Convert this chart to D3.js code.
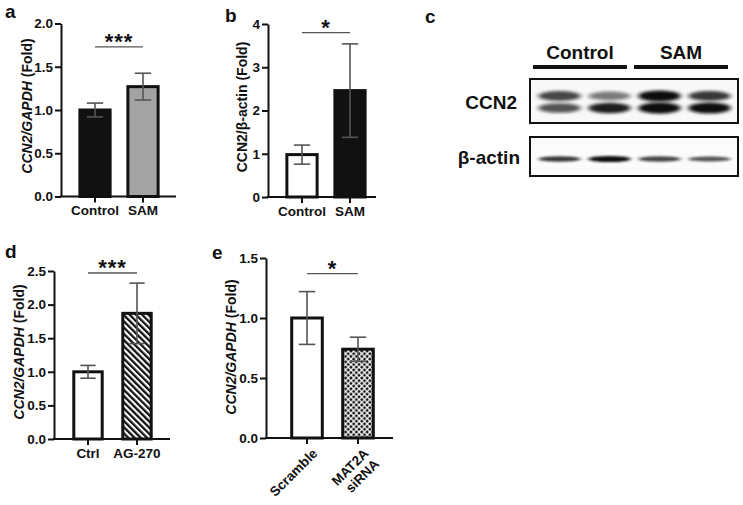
<!DOCTYPE html>
<html>
<head>
<meta charset="utf-8">
<title>CCN2 panels</title>
<script src="https://d3js.org/d3.v7.min.js"></script>
<style>
  body { margin: 0; background: #fff; }
  svg text { font-family: "Liberation Sans", Arial, sans-serif; font-weight: bold; fill: #111; }
</style>
</head>
<body>
<svg width="743" height="505"></svg>
<script>
// ---- data ----
var aCategories = ["Control", "SAM"];
var aMeans = [1.0, 1.27];
var aErrors = [0.08, 0.155];
var aTicks = [0, 0.5, 1.0, 1.5, 2.0];
var aSig = 1.73;

var bCategories = ["Control", "SAM"];
var bMeans = [0.98, 2.46];
var bErrors = [0.22, 1.08];
var bTicks = [0, 1, 2, 3, 4];
var bSig = 3.8;

var dCategories = ["Ctrl", "AG-270"];
var dMeans = [1.0, 1.87];
var dErrors = [0.095, 0.45];
var dTicks = [0, 0.5, 1.0, 1.5, 2.0, 2.5];
var dSig = 2.47;

var eCategories = ["Scramble", "MAT2A siRNA"];
var eMeans = [1.0, 0.74];
var eErrors = [0.22, 0.1];
var eTicks = [0, 0.5, 1.0, 1.5];
var eSig = 1.37;

// western blot (relative band intensity per lane)
var blotGroups = ["Control", "SAM"];
var blotLanes = ["Control 1", "Control 2", "SAM 1", "SAM 2"];
var ccn2Upper = [0.7, 0.5, 0.95, 0.75];
var ccn2Lower = [0.65, 0.85, 1.0, 0.95];
var actinBand = [0.75, 0.95, 0.7, 0.65];

const svg = d3.select("svg");
const defs = svg.append("defs");

// hatch for AG-270
defs.append("pattern").attr("id", "hatch")
  .attr("patternUnits", "userSpaceOnUse")
  .attr("width", 4.4).attr("height", 4.4)
  .attr("patternTransform", "rotate(-45)")
  .call(p => {
    p.append("rect").attr("width", 4.4).attr("height", 4.4).attr("fill", "#fff");
    p.append("rect").attr("width", 2.3).attr("height", 4.4).attr("fill", "#111");
  });

// diamond dots for MAT2A siRNA
defs.append("pattern").attr("id", "dots")
  .attr("patternUnits", "userSpaceOnUse")
  .attr("width", 5.4).attr("height", 5.4)
  .call(p => {
    p.append("rect").attr("width", 5.4).attr("height", 5.4).attr("fill", "#fff");
    p.append("path").attr("fill", "#111")
      .attr("d", "M2.7,0.9L4.5,2.7L2.7,4.5L0.9,2.7Z M0,-1.8L1.8,0L0,1.8L-1.8,0Z M5.4,-1.8L7.2,0L5.4,1.8L3.6,0Z M0,3.6L1.8,5.4L0,7.2L-1.8,5.4Z M5.4,3.6L7.2,5.4L5.4,7.2L3.6,5.4Z");
  });

defs.append("filter").attr("id", "blur").attr("x", "-30%").attr("y", "-100%").attr("width", "160%").attr("height", "300%")
  .append("feGaussianBlur").attr("stdDeviation", "2.6 1.8");
defs.append("filter").attr("id", "blur2").attr("x", "-30%").attr("y", "-100%").attr("width", "160%").attr("height", "300%")
  .append("feGaussianBlur").attr("stdDeviation", "2 0.9");

function drawBarPanel(p) {
  const g = svg.append("g");
  const y = d3.scaleLinear().domain([0, p.max]).range([p.y0, p.y1]);
  const step = p.c2 - p.c1;
  const x = d3.scaleBand().domain(p.cats)
    .range([p.c1 - step / 2, p.c2 + step / 2])
    .paddingInner(p.pad).paddingOuter(p.pad / 2);

  // bars
  g.selectAll("rect.bar").data(p.cats).join("rect")
    .attr("class", "bar")
    .attr("x", d => x(d))
    .attr("y", (d, i) => y(p.means[i]))
    .attr("width", x.bandwidth())
    .attr("height", (d, i) => p.y0 - y(p.means[i]))
    .attr("fill", (d, i) => p.fills[i])
    .attr("stroke", "#111").attr("stroke-width", 3);

  // error bars
  const cx = d => x(d) + x.bandwidth() / 2;
  const cap = x.bandwidth() * 0.27;
  const eb = g.selectAll("g.err").data(p.cats).join("g").attr("class", "err")
    .attr("stroke", "#555").attr("stroke-width", 1.6);
  eb.append("line")
    .attr("x1", cx).attr("x2", cx)
    .attr("y1", (d, i) => y(p.means[i] - p.errors[i]))
    .attr("y2", (d, i) => y(p.means[i] + p.errors[i]));
  eb.append("line")
    .attr("x1", d => cx(d) - cap).attr("x2", d => cx(d) + cap)
    .attr("y1", (d, i) => y(p.means[i] + p.errors[i]))
    .attr("y2", (d, i) => y(p.means[i] + p.errors[i]));
  eb.append("line")
    .attr("x1", d => cx(d) - cap).attr("x2", d => cx(d) + cap)
    .attr("y1", (d, i) => y(p.means[i] - p.errors[i]))
    .attr("y2", (d, i) => y(p.means[i] - p.errors[i]));

  // y axis
  const ya = g.append("g").attr("transform", `translate(${p.ax},0)`)
    .call(d3.axisLeft(y).tickValues(p.ticks).tickFormat(d3.format(p.fmt)).tickSize(6).tickSizeOuter(0).tickPadding(2));
  ya.selectAll("path,line").attr("stroke", "#111").attr("stroke-width", 2);
  ya.selectAll("text").attr("font-size", 13.5).attr("fill", "#111");

  // x axis
  g.append("line").attr("x1", p.ax - 1).attr("x2", p.xEnd)
    .attr("y1", p.y0).attr("y2", p.y0)
    .attr("stroke", "#111").attr("stroke-width", 2);
  const xa = g.append("g").attr("transform", `translate(0,${p.y0})`)
    .call(d3.axisBottom(x).tickSize(6).tickPadding(3));
  xa.select(".domain").remove();
  xa.selectAll("line").attr("stroke", "#111").attr("stroke-width", 2);
  xa.selectAll("text").attr("font-size", 13.5).attr("fill", "#111");
  if (p.rotate) {
    xa.selectAll("text").each(function (d) {
      const t = d3.select(this).text("")
        .attr("text-anchor", "end")
        .attr("transform", "translate(5,10) rotate(-45)")
        .attr("dy", "0.35em");
      const parts = d.split(" ");
      parts.forEach((s, k) => t.append("tspan").attr("x", 0).attr("dy", k === 0 ? 0 : "1.1em").text(s));
    });
  }

  // significance
  g.append("line")
    .attr("x1", cx(p.cats[0])).attr("x2", cx(p.cats[1]))
    .attr("y1", y(p.sig)).attr("y2", y(p.sig))
    .attr("stroke", "#555").attr("stroke-width", 1.3);
  g.append("text")
    .attr("x", (cx(p.cats[0]) + cx(p.cats[1])) / 2)
    .attr("y", y(p.sig) + 2)
    .attr("text-anchor", "middle").attr("font-size", 22).attr("letter-spacing", 1)
    .text(p.sigText);

  // y title
  const t = g.append("text")
    .attr("transform", `translate(${p.tx},${p.ty}) rotate(-90)`)
    .attr("text-anchor", "middle").attr("font-size", 14);
  t.append("tspan").attr("font-style", p.italic ? "italic" : "normal").text(p.title[0]);
  t.append("tspan").text(p.title[1]);

  // panel letter
  svg.append("text").attr("x", p.lx).attr("y", p.ly).attr("font-size", 19).text(p.letter);
}

drawBarPanel({
  cats: aCategories, means: aMeans, errors: aErrors, ticks: aTicks, fmt: ".1f", max: 2,
  y0: 196.5, y1: 23.5, ax: 61, xEnd: 176, c1: 95, c2: 143, pad: 0.37,
  fills: ["#111", "#a3a3a3"], sig: aSig, sigText: "***",
  title: ["CCN2/GAPDH", " (Fold)"], italic: true, tx: 32, ty: 106,
  letter: "a", lx: 5, ly: 18
});

drawBarPanel({
  cats: bCategories, means: bMeans, errors: bErrors, ticks: bTicks, fmt: "d", max: 4,
  y0: 197, y1: 24, ax: 268, xEnd: 376, c1: 302, c2: 350, pad: 0.37,
  fills: ["#fff", "#111"], sig: bSig, sigText: "*",
  title: ["", "CCN2/\u03b2-actin (Fold)"], italic: false, tx: 247, ty: 107,
  letter: "b", lx: 225, ly: 22
});

drawBarPanel({
  cats: dCategories, means: dMeans, errors: dErrors, ticks: dTicks, fmt: ".1f", max: 2.5,
  y0: 439, y1: 271, ax: 54, xEnd: 170, c1: 88, c2: 137, pad: 0.42,
  fills: ["#fff", "url(#hatch)"], sig: dSig, sigText: "***",
  title: ["CCN2/GAPDH", " (Fold)"], italic: true, tx: 24, ty: 352,
  letter: "d", lx: 5, ly: 258
});

drawBarPanel({
  cats: eCategories, means: eMeans, errors: eErrors, ticks: eTicks, fmt: ".1f", max: 1.5,
  y0: 438, y1: 258, ax: 266, xEnd: 393, c1: 307, c2: 358, pad: 0.4,
  fills: ["#fff", "url(#dots)"], sig: eSig, sigText: "*", rotate: true,
  title: ["CCN2/GAPDH", " (Fold)"], italic: true, tx: 236, ty: 347,
  letter: "e", lx: 212, ly: 259
});

// ---- panel c: western blot ----
const blot = svg.append("g");
const lane = d3.scaleBand().domain(blotLanes).range([533, 736]).padding(0.06);
const grp = d3.scaleBand().domain(blotGroups).range([533, 728]).paddingInner(0.07);
const row = d3.scalePoint().domain(["upper", "lower"]).range([96, 108]);

blot.selectAll("text.grp").data(blotGroups).join("text")
  .attr("class", "grp")
  .attr("x", d => grp(d) + grp.bandwidth() / 2).attr("y", 59)
  .attr("text-anchor", "middle").attr("font-size", 19).text(d => d);
blot.selectAll("line.grp").data(blotGroups).join("line")
  .attr("class", "grp")
  .attr("x1", d => grp(d)).attr("x2", d => grp(d) + grp.bandwidth())
  .attr("y1", 67).attr("y2", 67)
  .attr("stroke", "#111").attr("stroke-width", 4);

blot.append("rect").attr("x", 530).attr("y", 79).attr("width", 208).attr("height", 44)
  .attr("fill", "#f8f8f8");
blot.append("rect").attr("x", 530).attr("y", 137).attr("width", 208).attr("height", 39)
  .attr("fill", "#fbfbfb");

function bands(vals, yPos, ry, filter) {
  blot.append("g").attr("filter", filter)
    .selectAll("ellipse").data(blotLanes).join("ellipse")
    .attr("cx", d => lane(d) + lane.bandwidth() / 2)
    .attr("cy", yPos)
    .attr("rx", lane.bandwidth() * 0.45)
    .attr("ry", (d, i) => ry * (0.7 + 0.6 * vals[i]))
    .attr("fill", "#111")
    .attr("fill-opacity", (d, i) => Math.min(1, vals[i] * 1.1));
}
bands(ccn2Upper, row("upper"), 4.4, "url(#blur)");
bands(ccn2Lower, row("lower"), 4.4, "url(#blur)");
bands(actinBand, 159, 2.4, "url(#blur2)");

blot.append("rect").attr("x", 530).attr("y", 79).attr("width", 208).attr("height", 44)
  .attr("fill", "none").attr("stroke", "#111").attr("stroke-width", 2);
blot.append("rect").attr("x", 530).attr("y", 137).attr("width", 208).attr("height", 39)
  .attr("fill", "none").attr("stroke", "#111").attr("stroke-width", 2);

blot.append("text").attr("x", 517).attr("y", 109).attr("text-anchor", "end").attr("font-size", 19).text("CCN2");
blot.append("text").attr("x", 520).attr("y", 164).attr("text-anchor", "end").attr("font-size", 19).text("\u03b2-actin");
svg.append("text").attr("x", 425).attr("y", 23).attr("font-size", 19).text("c");
</script>
</body>
</html>
